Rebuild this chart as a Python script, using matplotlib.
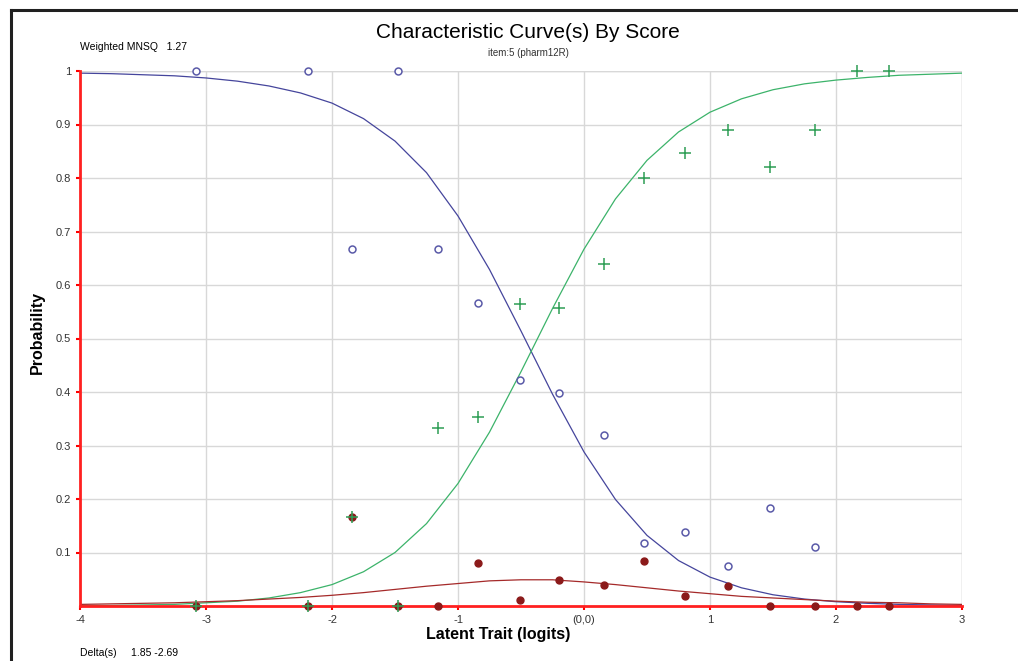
import numpy as np
import matplotlib.pyplot as plt
from matplotlib.lines import Line2D

plt.rcParams['font.family'] = ['Liberation Sans', 'DejaVu Sans']

# observed proportions by score group
obs_x = [-3.08, -2.19, -1.84, -1.48, -1.16, -0.84, -0.51, -0.20, 0.16, 0.48, 0.80, 1.14, 1.48, 1.83, 2.17, 2.42]
obs_score0 = [1.0, 1.0, 0.667, 1.0, 0.667, 0.567, 0.422, 0.398, 0.320, 0.117, 0.139, 0.075, 0.183, 0.110, None, None]
obs_score1 = [0.0, 0.0, 0.167, 0.0, 0.0, 0.080, 0.011, 0.048, 0.039, 0.084, 0.019, 0.037, 0.0, 0.0, 0.0, 0.0]
obs_score2 = [0.0, 0.0, 0.167, 0.0, 0.333, 0.353, 0.565, 0.557, 0.640, 0.800, 0.846, 0.890, 0.820, 0.890, 1.0, 1.0]

# model curves read at 0.25 logit steps
curve_x = [-4.0, -3.75, -3.5, -3.25, -3.0, -2.75, -2.5, -2.25, -2.0, -1.75, -1.5, -1.25, -1.0, -0.75,
           -0.5, -0.25, 0.0, 0.25, 0.5, 0.75, 1.0, 1.25, 1.5, 1.75, 2.0, 2.25, 2.5, 2.75, 3.0]
curve0 = [0.996, 0.995, 0.993, 0.991, 0.987, 0.981, 0.972, 0.959, 0.940, 0.911, 0.869, 0.810, 0.729, 0.629,
          0.514, 0.396, 0.288, 0.199, 0.132, 0.085, 0.054, 0.034, 0.021, 0.013, 0.008, 0.005, 0.003, 0.002, 0.001]
curve1 = [0.003, 0.004, 0.005, 0.006, 0.008, 0.010, 0.013, 0.016, 0.020, 0.025, 0.031, 0.037, 0.042, 0.047,
          0.049, 0.049, 0.045, 0.040, 0.034, 0.028, 0.023, 0.018, 0.015, 0.012, 0.009, 0.007, 0.006, 0.004, 0.003]
curve2 = [0.001, 0.001, 0.002, 0.003, 0.006, 0.009, 0.015, 0.025, 0.040, 0.064, 0.100, 0.154, 0.229, 0.325,
          0.438, 0.556, 0.667, 0.761, 0.833, 0.886, 0.923, 0.948, 0.965, 0.976, 0.983, 0.988, 0.992, 0.994, 0.996]

xticks = [-4, -3, -2, -1, 0, 1, 2, 3]
xticklabels = ['-4', '-3', '-2', '-1', '(0,0)', '1', '2', '3']
yticks = [0.1, 0.2, 0.3, 0.4, 0.5, 0.6, 0.7, 0.8, 0.9, 1.0]
yticklabels = ['0.1', '0.2', '0.3', '0.4', '0.5', '0.6', '0.7', '0.8', '0.9', '1']

fig = plt.figure(figsize=(10.18, 6.61), dpi=100)
ax = fig.add_axes([80 / 1018, 1 - 606 / 661, 882 / 1018, 535 / 661])

ax.plot(curve_x, curve0, color='#45459c', lw=0.9, zorder=3)
ax.plot(curve_x, curve2, color='#3cb36a', lw=0.9, zorder=3)
ax.plot(curve_x, curve1, color='#a52a2a', lw=0.9, zorder=3)

x0 = [x for x, v in zip(obs_x, obs_score0) if v is not None]
y0 = [v for v in obs_score0 if v is not None]
ax.plot(x0, y0, 'o', ms=5, mfc='white', mec='#5a5aa8', mew=1.1, ls='none', clip_on=False, zorder=5)
ax.plot(obs_x, obs_score1, 'o', ms=5, color='#8b1a1a', ls='none', clip_on=False, zorder=5)
ax.plot(obs_x, obs_score2, '+', ms=8.5, color='#2e9e55', mew=1.1, ls='none', clip_on=False, zorder=6)

ax.set_xlim(-4, 3)
ax.set_ylim(0, 1)
ax.set_xticks(xticks)
ax.set_xticklabels(xticklabels)
ax.set_yticks(yticks)
ax.set_yticklabels(yticklabels)
ax.tick_params(colors='red', labelcolor='#333333', labelsize=8, length=3, width=1.5)
ax.grid(True, color='#d8d8d8', lw=1.0)
ax.set_axisbelow(True)

for s in ['top', 'right']:
    ax.spines[s].set_visible(False)
for s in ['left', 'bottom']:
    ax.spines[s].set_color('#ff2020')
    ax.spines[s].set_linewidth(2)
    ax.spines[s].set_zorder(4)
# grid line at the top and right limits
ax.axhline(1, color='#d8d8d8', lw=1.0, zorder=0)
ax.axvline(3, color='#d8d8d8', lw=1.0, zorder=0)

fig.text(528 / 1018, 1 - 33 / 661, 'Characteristic Curve(s) By Score', ha='center', va='center', fontsize=15)
fig.text(528 / 1018, 1 - 53 / 661, 'item:5 (pharm12R)', ha='center', va='center', fontsize=7, color='#333333')
fig.text(80 / 1018, 1 - 47 / 661, 'Weighted MNSQ   1.27', ha='left', va='center', fontsize=7.5)
fig.text(80 / 1018, 1 - 653 / 661, 'Delta(s)     1.85 -2.69', ha='left', va='center', fontsize=7.5)
fig.text(498 / 1018, 1 - 635 / 661, 'Latent Trait (logits)', ha='center', va='center', fontsize=11.5, fontweight='bold')
fig.text(37 / 1018, 1 - 333 / 661, 'Probability', ha='center', va='center', rotation=90, fontsize=11.5, fontweight='bold')

# frame lines at the left and top edges
fig.add_artist(Line2D([11 / 1018, 11 / 1018], [0, 1 - 10 / 661], color='#202020', lw=2.2))
fig.add_artist(Line2D([11 / 1018, 1], [1 - 10 / 661, 1 - 10 / 661], color='#202020', lw=2.2))

fig.savefig('out.png', dpi=100)
